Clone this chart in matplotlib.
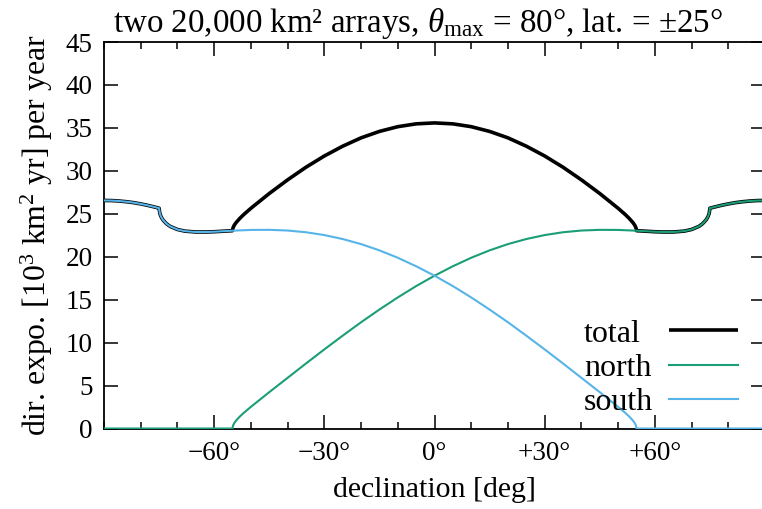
import matplotlib
matplotlib.use("Agg")
import matplotlib.pyplot as plt
from matplotlib.lines import Line2D
from matplotlib.ticker import MultipleLocator

plt.rcParams['font.family'] = ['Liberation Serif', 'DejaVu Serif']
plt.rcParams['mathtext.fontset'] = 'custom'
plt.rcParams['mathtext.rm'] = 'Liberation Serif'
plt.rcParams['mathtext.it'] = 'Liberation Serif:italic'

# ---- data ----
south_dec = [-90, -88, -86, -84, -82, -80, -78, -76,
             -75, -74.8, -74.5, -74, -73, -72, -70, -68, -65, -62, -60, -58, -55,
             -50, -45, -40, -35, -30, -25, -20, -15, -10, -5, 0,
             5, 10, 15, 20, 25, 30, 35, 40, 45, 50,
             52, 53, 54, 54.5, 54.8, 54.95, 55, 90]
south_val = [26.55, 26.54, 26.49, 26.41, 26.30, 26.15, 25.97, 25.76,
             25.65, 25.04, 24.69, 24.31, 23.84, 23.53, 23.17, 22.98, 22.88, 22.88, 22.91, 22.96, 23.03,
             23.12, 23.13, 23.05, 22.85, 22.52, 22.06, 21.47, 20.74, 19.88, 18.89, 17.79,
             16.58, 15.26, 13.85, 12.37, 10.81, 9.21, 7.57, 5.90, 4.23, 2.52,
             1.80, 1.40, 0.94, 0.65, 0.40, 0.20, 0.0, 0.0]

north_dec = [-90, -55, -54.95, -54.8, -54.5, -54, -53, -52,
             -50, -45, -40, -35, -30, -25, -20, -15, -10, -5,
             0,
             5, 10, 15, 20, 25, 30, 35, 40, 45, 50,
             55, 58, 60, 62, 65, 68, 70, 72, 73, 74, 74.5, 74.8, 75,
             76, 78, 80, 82, 84, 86, 88, 90]
north_val = [0.0, 0.0, 0.20, 0.40, 0.65, 0.94, 1.40, 1.80,
             2.52, 4.23, 5.90, 7.57, 9.21, 10.81, 12.37, 13.85, 15.26, 16.58,
             17.79,
             18.89, 19.88, 20.74, 21.47, 22.06, 22.52, 22.85, 23.05, 23.13, 23.12,
             23.03, 22.96, 22.91, 22.88, 22.88, 22.98, 23.17, 23.53, 23.84, 24.31, 24.69, 25.04, 25.65,
             25.76, 25.97, 26.15, 26.30, 26.41, 26.49, 26.54, 26.55]

total_dec = [-90, -88, -86, -84, -82, -80, -78, -76,
             -75, -74.8, -74.5, -74, -73, -72, -70, -68, -65, -62, -60, -58, -55,
             -54.95, -54.8, -54.5, -54, -53, -52, -50, -45, -40, -35, -30, -25, -20, -15, -10, -5,
             0,
             5, 10, 15, 20, 25, 30, 35, 40, 45, 50, 52, 53, 54, 54.5, 54.8, 54.95,
             55, 58, 60, 62, 65, 68, 70, 72, 73, 74, 74.5, 74.8, 75,
             76, 78, 80, 82, 84, 86, 88, 90]
total_val = [26.55, 26.54, 26.49, 26.41, 26.30, 26.15, 25.97, 25.76,
             25.65, 25.04, 24.69, 24.31, 23.84, 23.53, 23.17, 22.98, 22.88, 22.88, 22.91, 22.96, 23.03,
             23.23, 23.43, 23.69, 23.99, 24.47, 24.89, 25.64, 27.36, 28.95, 30.42, 31.73, 32.87, 33.84,
             34.59, 35.14, 35.47,
             35.58,
             35.47, 35.14, 34.59, 33.84, 32.87, 31.73, 30.42, 28.95, 27.36, 25.64, 24.89, 24.47, 23.99,
             23.69, 23.43, 23.23,
             23.03, 22.96, 22.91, 22.88, 22.88, 22.98, 23.17, 23.53, 23.84, 24.31, 24.69, 25.04, 25.65,
             25.76, 25.97, 26.15, 26.30, 26.41, 26.49, 26.54, 26.55]

series_labels = ['total', 'north', 'south']
series_colors = ['black', '#1a9e77', '#56b4e9']

x_ticks = [-60, -30, 0, 30, 60]
x_ticklabels = ['\u221260\u00b0', '\u221230\u00b0', '0\u00b0', '+30\u00b0', '+60\u00b0']
y_ticks = list(range(0, 46, 5))

# ---- figure ----
W, H = 762, 509
fig = plt.figure(figsize=(W / 100, H / 100), dpi=100)
left, right, top, bottom = 104, 765, 42, 428.5
ax = fig.add_axes([left / W, 1 - bottom / H, (right - left) / W, (bottom - top) / H])

l_tot, = ax.plot(total_dec, total_val, color=series_colors[0], lw=2.6,
                 solid_capstyle='butt', solid_joinstyle='round', zorder=2)
l_nor, = ax.plot(north_dec, north_val, color=series_colors[1], lw=1.5, zorder=3)
l_sou, = ax.plot(south_dec, south_val, color=series_colors[2], lw=1.5, zorder=3)

ax.set_xlim(-90, 90)
ax.set_ylim(0, 45)
ax.set_xticks(x_ticks)
ax.set_xticklabels(x_ticklabels)
ax.xaxis.set_minor_locator(MultipleLocator(10))
ax.set_yticks(y_ticks)

fs_tick = 19.5
ax.tick_params(which='both', direction='in', top=True, right=True, width=1.1, labelsize=fs_tick)
ax.tick_params(which='major', length=10)
ax.tick_params(which='minor', length=5)
ax.tick_params(axis='x', pad=9)
ax.tick_params(axis='y', pad=8)
for s in ax.spines.values():
    s.set_linewidth(1.3)

ax.set_xlabel('declination [deg]', fontsize=21.5, labelpad=8)
ax.set_ylabel('dir. expo. [10$^3$ km$^2$ yr] per year', fontsize=22.9, labelpad=8)
ax.set_title('two 20,000 km\u00b2 arrays, $\\theta_{\\mathrm{max}}$ = 80\u00b0, lat. = \u00b125\u00b0',
             fontsize=23.8, pad=7, x=0.475)

# legend: left-aligned labels, right-aligned line samples
fs_leg = 23
y0 = 0.030
proxies = [Line2D([], [], linestyle='none') for _ in series_labels]
leg_text = ax.legend(proxies, series_labels, loc='lower left', bbox_to_anchor=(0.726, y0),
                     frameon=False, fontsize=fs_leg, handlelength=0, handletextpad=0,
                     labelspacing=0.15, borderpad=0, borderaxespad=0)
ax.add_artist(leg_text)
leg_lines = ax.legend([l_tot, l_nor, l_sou], series_labels, loc='lower right',
                      bbox_to_anchor=(0.959, y0), frameon=False, markerfirst=False,
                      fontsize=fs_leg, handlelength=2.15, handletextpad=0.5,
                      labelspacing=0.15, borderpad=0, borderaxespad=0)
for t in leg_lines.get_texts():
    t.set_alpha(0)

fig.savefig('out.png', dpi=100)
